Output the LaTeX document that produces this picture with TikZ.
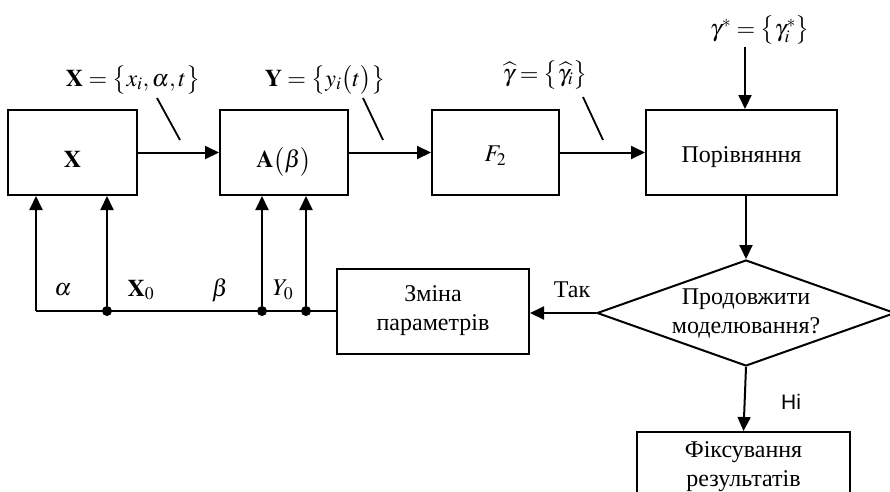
\documentclass[tikz,border=0pt]{standalone}
\usepackage{mathptmx}
\usepackage{fontspec}
\setmainfont{Liberation Serif}
\newfontfamily\labelsans{Liberation Sans}
\usetikzlibrary{shapes.geometric,arrows.meta}
% set a box label with its baseline a given distance below the node centre
\newcommand{\lowlabel}[2]{\raisebox{-#1}[0pt][0pt]{#2}}

\begin{document}
\begin{tikzpicture}[x=1pt,y=-1pt,
  every node/.style={font=\fontsize{24}{29}\selectfont},
  blk/.style={draw, line width=2pt, minimum height=85pt, inner sep=0pt, align=center},
  arr/.style={-{Triangle[length=14pt,width=13pt]}, line width=2pt},
  ln/.style={line width=2pt},
  tick/.style={line width=1.8pt},
  dot/.style={circle, fill, inner sep=0pt, minimum size=10pt}]
\useasboundingbox (0,0) rectangle (890,491);

% main chain of blocks
\node[blk, minimum width=129pt] (X) at (72.5,152.5) {\lowlabel{15pt}{$\mathbf{X}$}};
\node[blk, minimum width=128pt] (A) at (284,152.5) {\lowlabel{15pt}{$\mathbf{A}\bigl(\beta\bigr)$}};
\node[blk, minimum width=127pt] (F) at (495.5,152.5) {\lowlabel{9pt}{$F_2$}};
\node[blk, minimum width=191pt] (P) at (741.5,152.5) {\lowlabel{10pt}{Порівняння}};

% decision and feedback
\node[blk, minimum width=192pt] (Z) at (433,311) {Зміна\\параметрів};
\node[draw, line width=2pt, shape=diamond, aspect=2.81, minimum width=298pt,
      minimum height=106pt, inner sep=0pt, align=center] (D) at (746,313)
      {Продовжити\\моделювання?};
\node[blk, minimum width=213pt, minimum height=70pt] (R) at (743.5,467)
      {Фіксування\\результатів};

% forward connectors
\draw[arr] (X) -- (A);
\draw[arr] (A) -- (F);
\draw[arr] (F) -- (P);
\coordinate (gs) at (745,47);
\draw[arr] (gs) -- (gs |- P.north);
\draw[arr] (P.south -| D.north) -- (D.north);
\draw[arr] (D.west) -- (D.west -| Z.east);
\draw[arr] (D.south) -- (R.north);
\node (yes) at (572,290) {Так};
\node[font=\labelsans\fontsize{21}{24}\selectfont] (no) at (791,402) {Ні};

% feedback bus
\coordinate (c0) at (36,311);
\node[dot] (j1) at (107,311) {};
\node[dot] (j2) at (262,311) {};
\node[dot] (j3) at (306,311) {};
\draw[ln] (Z.west) -- (c0);
\draw[arr] (c0) -- (c0 |- X.south);
\draw[arr] (j1) -- (j1 |- X.south);
\draw[arr] (j2) -- (j2 |- A.south);
\draw[arr] (j3) -- (j3 |- A.south);

\node (la) at (63,290) {$\alpha$};
\node (lx0) at (141,290) {$\mathbf{X}_0$};
\node (lb) at (220,290) {$\beta$};
\node (ly0) at (283,290) {$Y_0$};

% signal labels with leader ticks
\node (lx) at (133,80) {$\mathbf{X}=\bigl\{x_i,\alpha,t\bigr\}$};
\node (ly) at (325,80) {$\mathbf{Y}=\bigl\{y_i\bigl(t\bigr)\bigr\}$};
\node (lg) at (545,75) {$\widehat{\gamma}=\bigl\{\widehat{\gamma}_i\bigr\}$};
\node (ls) at (760,30) {$\gamma^{*}=\bigl\{\gamma_i^{*}\bigr\}$};
\draw[tick] (157,98) -- (180,140);
\draw[tick] (363,98) -- (383,140);
\draw[tick] (583,97) -- (603,140);
\end{tikzpicture}
\end{document}
